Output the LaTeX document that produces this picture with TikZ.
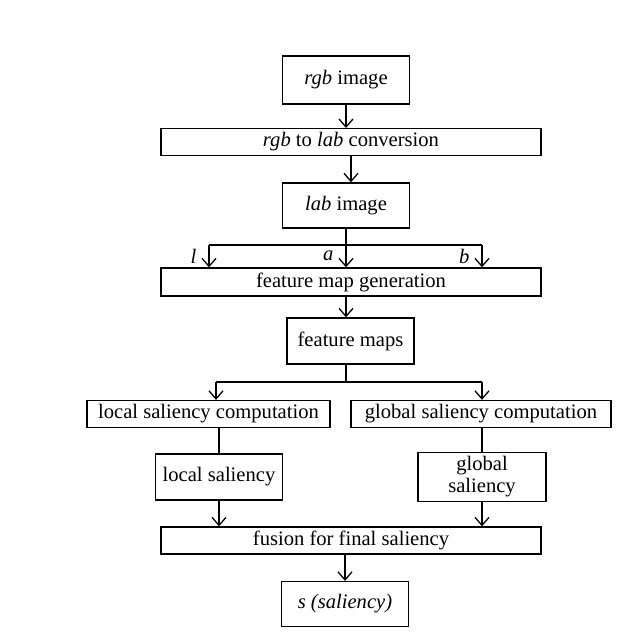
\documentclass[tikz,border=0pt]{standalone}
\usepackage{fontspec}
\setmainfont{Liberation Serif}
\usetikzlibrary{arrows.meta, calc, positioning}
\tikzset{
    stepBox/.style={rectangle, draw, line width=0.65pt, inner sep=2pt, align=center, font=\fontsize{10.3}{11}\selectfont},
    smallBox/.style={stepBox, minimum width=63.5pt, minimum height=23pt},
    wideBox/.style={stepBox, minimum width=190pt, minimum height=13.5pt},
    flowEdge/.style={-{Straight Barb[length=4pt, width=7pt]}, line width=0.65pt},
    flowLine/.style={line width=0.65pt},
    chanLabel/.style={font=\fontsize{10.3}{11}\selectfont\itshape, inner sep=1pt},
}
\newcommand{\drawDown}[2]{
    \draw[flowEdge] (#1.south) -- (#1.south |- #2.north);
}

\begin{document}
\begin{tikzpicture}[x=0.5pt, y=-0.5pt]
        \useasboundingbox (0,0) rectangle (638,635);

        \node[smallBox, minimum height=24pt] (rgbImg) at (346, 80) {\textit{rgb} image};
        \node[wideBox, minimum height=13pt] (rgbConv) at (351, 142) {\textit{rgb} to \textit{lab} conversion};
        \node[smallBox, minimum height=22.5pt] (labImg) at (346, 205.5) {\textit{lab} image};
        \node[wideBox, minimum height=14pt] (fmGen) at (351, 282) {feature map generation};
        \node[smallBox] (fmMaps) at (350.5, 341) {feature maps};
        \node[stepBox, minimum width=121.5pt, minimum height=13.5pt] (localComp) at (208.5, 414) {local saliency computation};
        \node[stepBox, minimum width=130pt, minimum height=13.5pt] (globalComp) at (481, 414) {global saliency computation};
        \node[smallBox] (localSal) at (219, 477) {local saliency};
        \node[smallBox, minimum width=64pt, minimum height=22.5pt] (globalSal) at (482, 477) {global\\saliency};
        \node[wideBox] (fusion) at (351, 540.5) {fusion for final saliency};
        \node[smallBox, minimum height=22.5pt] (sOut) at (345, 604) {\textit{s (saliency)}};

        \coordinate (lTop) at (209, 245);
        \coordinate (bTop) at (482, 245);
        \coordinate (locTop) at (216, 382);
        \coordinate (gloTop) at (482, 382);

        \drawDown{rgbImg}{rgbConv}
        \drawDown{rgbConv}{labImg}

        % l, a, b channels
        \draw[flowLine] (lTop) -- (bTop);
        \draw[flowEdge] (labImg.south) -- node[chanLabel, pos=0.7, left=5pt] {a} (labImg.south |- fmGen.north);
        \draw[flowEdge] (lTop) -- node[chanLabel, left=5pt] {l} (lTop |- fmGen.north);
        \draw[flowEdge] (bTop) -- node[chanLabel, left=5pt] {b} (bTop |- fmGen.north);

        \draw[flowEdge] (fmGen.south -| labImg) -- (labImg |- fmMaps.north);

        % local / global branch
        \draw[flowLine] (fmMaps.south -| labImg) -- (labImg |- locTop);
        \draw[flowLine] (locTop) -- (gloTop);
        \draw[flowEdge] (locTop) -- (locTop |- localComp.north);
        \draw[flowEdge] (gloTop) -- (gloTop |- globalComp.north);

        \draw[flowLine] (localComp.south -| localSal) -- (localSal.north);
        \draw[flowLine] (globalComp.south -| globalSal) -- (globalSal.north);
        \drawDown{localSal}{fusion}
        \drawDown{globalSal}{fusion}
        \draw[flowEdge] (fusion.south -| sOut) -- (sOut.north);

    \end{tikzpicture}
\end{document}
